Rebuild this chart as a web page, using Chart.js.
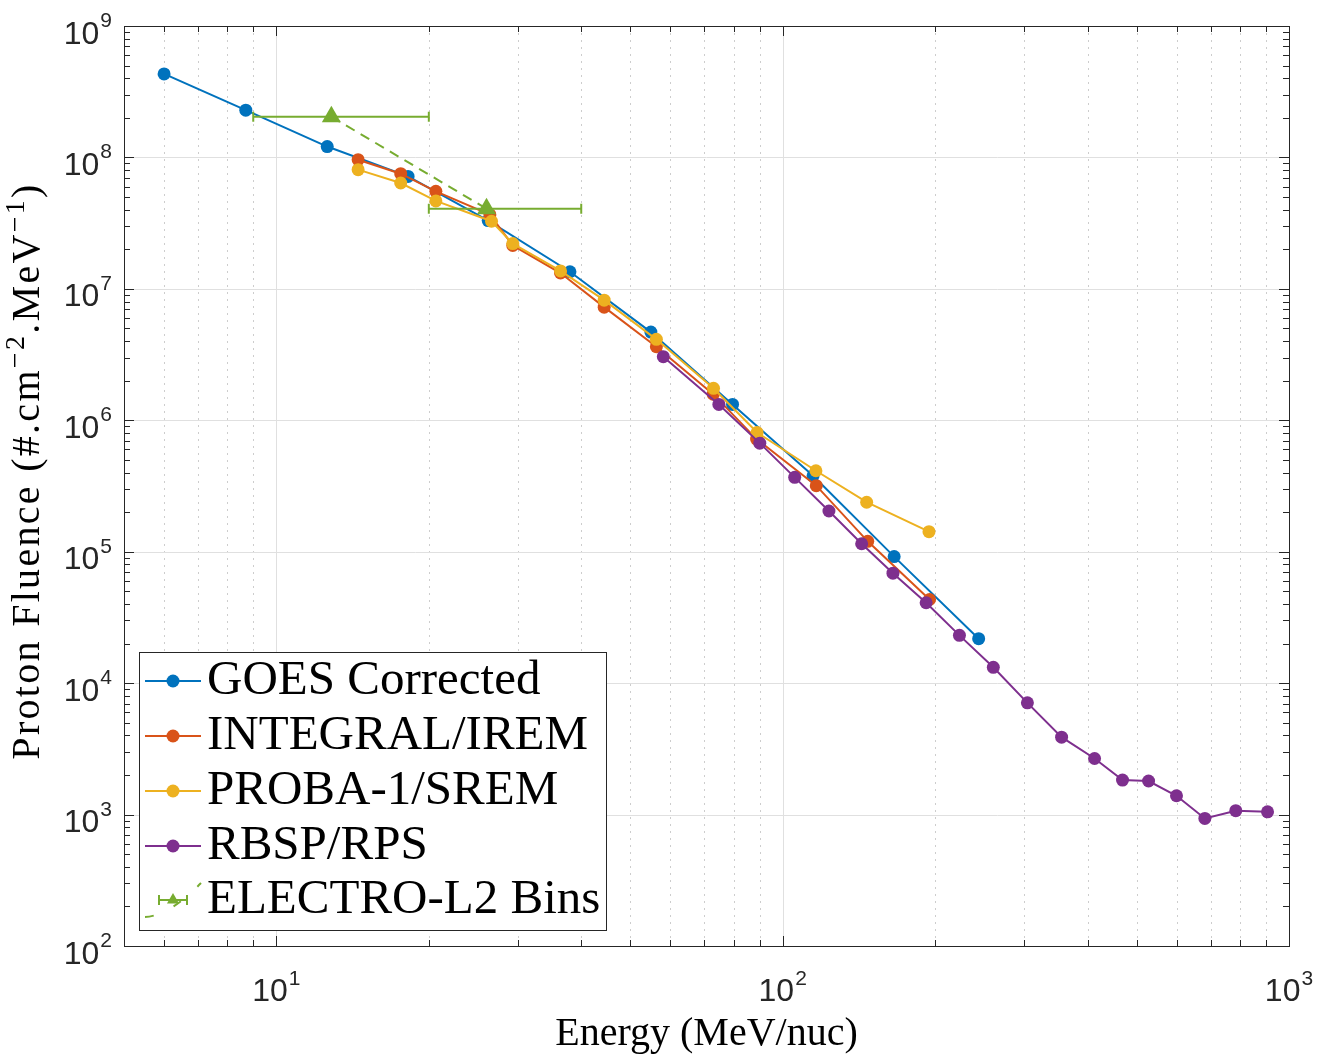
<!DOCTYPE html>
<html>
<head>
<meta charset="utf-8">
<title>Proton fluence spectra</title>
<script src="https://cdn.jsdelivr.net/npm/chart.js@4.4.1/dist/chart.umd.min.js"></script>
<style>
  body { margin: 0; background: #fff; }
  #wrap { width: 1327px; height: 1055px; }
</style>
</head>
<body>
<div id="wrap"><canvas id="chart" width="1327" height="1055"></canvas></div>
<script>
// energies (MeV/nuc) and fluences
const goesE = [6.0, 8.7, 12.6, 18.2, 26.2, 38.0, 54.9, 79.6, 114.8, 166, 243.8]
const goesF = [4.32e8, 2.29e8, 1.21e8, 7.17e7, 3.31e7, 1.35e7, 4.69e6, 1.32e6, 3.78e5, 9.18e4, 2.18e4]

const iremE = [14.5, 17.6, 20.65, 26.4, 29.3, 36.4, 44.4, 56.3, 72.9, 88.8, 116.5, 147.2, 195]
const iremF = [9.61e7, 7.52e7, 5.52e7, 3.67e7, 2.14e7, 1.32e7, 7.26e6, 3.63e6, 1.58e6, 7.19e5, 3.18e5, 1.2e5, 4.33e4]

const sremE = [14.5, 17.6, 20.65, 26.6, 29.3, 36.4, 44.4, 56.3, 73.0, 89, 116.3, 146.5, 194.5]
const sremF = [8.07e7, 6.39e7, 4.67e7, 3.27e7, 2.21e7, 1.37e7, 8.2e6, 4.13e6, 1.75e6, 8.07e5, 4.13e5, 2.38e5, 1.42e5]

const rbspE = [58.1, 74.8, 90.1, 105.6, 123.4, 143.2, 165.1, 192, 223.4, 260.6, 304.3, 355.5, 413, 469, 528, 599.5, 682, 785, 907]
const rbspF = [3.05e6, 1.32e6, 6.7e5, 3.68e5, 2.04e5, 1.15e5, 6.87e4, 4.09e4, 2.31e4, 1.32e4, 7.08e3, 3.88e3, 2.67e3, 1.83e3, 1.80e3, 1.39e3, 935, 1.07e3, 1.05e3]

const electroE = [12.84, 26.0]
const electroF = [2.04e8, 4.07e7]
const electroLow = [9, 20]
const electroHigh = [20, 40]

const names = ['GOES Corrected', 'INTEGRAL/IREM', 'PROBA-1/SREM', 'RBSP/RPS', 'ELECTRO-L2 Bins']
const colors = ['#0072BD', '#D95319', '#EDB120', '#7E2F8E', '#77AC30']

const xTickExp = [1, 2, 3]
const yTickExp = [2, 3, 4, 5, 6, 7, 8, 9]

const xMin = 5, xMax = 1000, yMin = 1e2, yMax = 1e9

const axisColor = '#262626'
const labelFont = '"Liberation Serif", "Times New Roman", serif'
const tickFont = '"Liberation Sans", Arial, sans-serif'

function pts(xs, ys) {
    return xs.map((v, i) => ({ x: v, y: ys[i] }))
}

function series(i, xs, ys, order) {
    return {
        label: names[i],
        data: pts(xs, ys),
        showLine: true,
        borderColor: colors[i],
        backgroundColor: colors[i],
        borderWidth: 2,
        pointRadius: 6.5,
        pointBorderWidth: 0,
        pointHoverRadius: 6.5,
        order: order
    }
}

// minor tick values 2..9 x 10^n inside a range
function minorVals(lo, hi) {
    let out = []
    for (let e = Math.floor(Math.log10(lo)); e < Math.ceil(Math.log10(hi)); e++) {
        for (let m = 2; m <= 9; m++) {
            let v = m * Math.pow(10, e)
            if (v > lo && v < hi) out.push(v)
        }
    }
    return out
}

function line(ctx, x1, y1, x2, y2) {
    ctx.beginPath()
    ctx.moveTo(x1, y1)
    ctx.lineTo(x2, y2)
    ctx.stroke()
}

function drawTri(ctx, cx, cy, r) {
    ctx.beginPath()
    ctx.moveTo(cx, cy - r)
    ctx.lineTo(cx + r * 0.866, cy + r * 0.5)
    ctx.lineTo(cx - r * 0.866, cy + r * 0.5)
    ctx.closePath()
    ctx.fill()
}

const matlabAxes = {
    id: 'matlabAxes',
    beforeDatasetsDraw(chart) {
        const { ctx, chartArea: a, scales: { x, y } } = chart
        ctx.save()
        // dotted minor x grid
        ctx.strokeStyle = '#cdcdcd'
        ctx.lineWidth = 1
        ctx.setLineDash([2, 5])
        minorVals(xMin, xMax).forEach(v => {
            let px = Math.round(x.getPixelForValue(v)) + 0.5
            line(ctx, px, a.top, px, a.bottom)
        })
        ctx.setLineDash([])
        ctx.strokeStyle = '#e0e0e0'
        xTickExp.forEach(e => {
            let px = Math.round(x.getPixelForValue(Math.pow(10, e))) + 0.5
            line(ctx, px, a.top, px, a.bottom)
        })
        yTickExp.forEach(e => {
            let py = Math.round(y.getPixelForValue(Math.pow(10, e))) + 0.5
            line(ctx, a.left, py, a.right, py)
        })
        ctx.restore()
    },
    beforeDatasetDraw(chart, args) {
        // horizontal error bars of the ELECTRO-L2 bins
        if (args.index !== 4) return
        const { ctx, scales: { x, y } } = chart
        ctx.save()
        ctx.strokeStyle = colors[4]
        ctx.lineWidth = 2
        electroE.forEach((e, i) => {
            let py = y.getPixelForValue(electroF[i])
            let x1 = x.getPixelForValue(electroLow[i])
            let x2 = x.getPixelForValue(electroHigh[i])
            line(ctx, x1, py, x2, py)
            line(ctx, x1, py - 5, x1, py + 5)
            line(ctx, x2, py - 5, x2, py + 5)
        })
        ctx.restore()
    },
    afterDatasetsDraw(chart) {
        const { ctx, chartArea: a, scales: { x, y } } = chart
        ctx.save()
        ctx.strokeStyle = axisColor
        ctx.lineWidth = 1
        ctx.strokeRect(Math.round(a.left) + 0.5, Math.round(a.top) + 0.5, Math.round(a.right - a.left), Math.round(a.bottom - a.top))

        // ticks pointing inward on all four sides
        const major = 10, minor = 6
        xTickExp.forEach(e => {
            let px = Math.round(x.getPixelForValue(Math.pow(10, e))) + 0.5
            line(ctx, px, a.bottom, px, a.bottom - major)
            line(ctx, px, a.top, px, a.top + major)
        })
        minorVals(xMin, xMax).forEach(v => {
            let px = Math.round(x.getPixelForValue(v)) + 0.5
            line(ctx, px, a.bottom, px, a.bottom - minor)
            line(ctx, px, a.top, px, a.top + minor)
        })
        yTickExp.forEach(e => {
            let py = Math.round(y.getPixelForValue(Math.pow(10, e))) + 0.5
            line(ctx, a.left, py, a.left + major, py)
            line(ctx, a.right, py, a.right - major, py)
        })
        minorVals(yMin, yMax).forEach(v => {
            let py = Math.round(y.getPixelForValue(v)) + 0.5
            line(ctx, a.left, py, a.left + minor, py)
            line(ctx, a.right, py, a.right - minor, py)
        })

        // tick labels 10^n
        ctx.fillStyle = axisColor
        ctx.textBaseline = 'alphabetic'
        const big = '32px ' + tickFont, small = '21px ' + tickFont
        yTickExp.forEach(e => {
            let py = y.getPixelForValue(Math.pow(10, e))
            ctx.font = small
            let ws = ctx.measureText(String(e)).width
            ctx.textAlign = 'right'
            ctx.fillText(String(e), a.left - 12, py + 1)
            ctx.font = big
            ctx.fillText('10', a.left - 13 - ws, py + 17.5)
        })
        xTickExp.forEach(e => {
            let px = x.getPixelForValue(Math.pow(10, e))
            ctx.font = big
            let wb = ctx.measureText('10').width
            ctx.font = small
            let ws = ctx.measureText(String(e)).width
            let left = px - (wb + 1 + ws) / 2
            ctx.textAlign = 'left'
            ctx.font = big
            ctx.fillText('10', left, 1001)
            ctx.font = small
            ctx.fillText(String(e), left + wb + 1, 985)
        })

        // axis labels
        ctx.fillStyle = '#000'
        ctx.font = '40px ' + labelFont
        ctx.textAlign = 'center'
        ctx.fillText('Energy (MeV/nuc)', (a.left + a.right) / 2, 1045)

        const ySegs = [
            { t: 'Proton Fluence (#.cm', sup: false },
            { t: '\u22122', sup: true },
            { t: '.MeV', sup: false },
            { t: '\u22121', sup: true },
            { t: ')', sup: false }
        ]
        ctx.save()
        ctx.translate(38.5, 471)
        ctx.rotate(-Math.PI / 2)
        ctx.textAlign = 'left'
        ctx.letterSpacing = '2.3px'
        let total = 0
        ySegs.forEach(s => {
            ctx.font = (s.sup ? '28px ' : '40px ') + labelFont
            s.w = ctx.measureText(s.t).width
            total += s.w
        })
        let ux = -total / 2
        ySegs.forEach(s => {
            ctx.font = (s.sup ? '28px ' : '40px ') + labelFont
            ctx.fillText(s.t, ux, s.sup ? -15 : 0)
            ux += s.w
        })
        ctx.restore()

        // legend
        const lgLeft = a.left + 15, lgTop = 652
        const rowY = [681, 736, 791, 846, 900]
        ctx.font = '49px ' + labelFont
        let maxW = 0
        names.forEach(n => { maxW = Math.max(maxW, ctx.measureText(n).width) })
        const lgRight = Math.max(600, lgLeft + 68 + maxW + 6)
        ctx.fillStyle = '#fff'
        ctx.fillRect(lgLeft, lgTop, lgRight - lgLeft, 278)
        ctx.strokeStyle = axisColor
        ctx.lineWidth = 1
        ctx.strokeRect(Math.round(lgLeft) + 0.5, lgTop + 0.5, Math.round(lgRight - lgLeft), 278)
        names.forEach((n, i) => {
            let cy = rowY[i]
            ctx.strokeStyle = colors[i]
            ctx.fillStyle = colors[i]
            ctx.lineWidth = 2
            if (i < 4) {
                line(ctx, lgLeft + 6, cy, lgLeft + 62, cy)
                ctx.beginPath()
                ctx.arc(lgLeft + 34, cy, 6.5, 0, Math.PI * 2)
                ctx.fill()
            } else {
                ctx.setLineDash([9, 22])
                ctx.beginPath()
                ctx.moveTo(lgLeft + 6, cy + 17)
                ctx.quadraticCurveTo(lgLeft + 30, cy + 16, lgLeft + 62, cy - 17)
                ctx.stroke()
                ctx.setLineDash([])
                line(ctx, lgLeft + 20, cy, lgLeft + 48, cy)
                line(ctx, lgLeft + 20, cy - 5, lgLeft + 20, cy + 5)
                line(ctx, lgLeft + 48, cy - 5, lgLeft + 48, cy + 5)
                drawTri(ctx, lgLeft + 34, cy, 7)
            }
            ctx.fillStyle = '#000'
            ctx.textAlign = 'left'
            ctx.fillText(n, lgLeft + 68, cy + 13)
        })
        ctx.restore()
    }
}

const electro = series(4, electroE, electroF, 1)
electro.pointStyle = 'triangle'
electro.pointRadius = 11
electro.pointHoverRadius = 11
electro.borderDash = [10, 7]

new Chart(document.getElementById('chart'), {
    type: 'scatter',
    data: {
        datasets: [
            series(0, goesE, goesF, 5),
            series(1, iremE, iremF, 4),
            series(2, sremE, sremF, 3),
            series(3, rbspE, rbspF, 2),
            electro
        ]
    },
    options: {
        responsive: false,
        animation: false,
        devicePixelRatio: 1,
        events: [],
        layout: { padding: { left: 124, top: 26, right: 38, bottom: 109 } },
        scales: {
            x: { type: 'logarithmic', min: xMin, max: xMax, display: false },
            y: { type: 'logarithmic', min: yMin, max: yMax, display: false }
        },
        plugins: {
            legend: { display: false },
            tooltip: { enabled: false }
        }
    },
    plugins: [matlabAxes]
})
</script>
</body>
</html>
